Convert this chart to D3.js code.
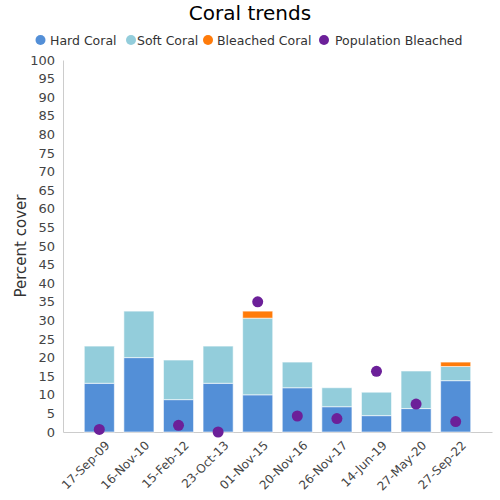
<!DOCTYPE html>
<html>
<head>
<meta charset="utf-8">
<script src="https://cdn.jsdelivr.net/npm/d3@7"></script>
<style>
body{margin:0;background:#fff;}
text{font-family:"DejaVu Sans",sans-serif;}
</style>
</head>
<body>
<svg id="chart" width="500" height="500"></svg>
<script>
const categories = ["17-Sep-09","16-Nov-10","15-Feb-12","23-Oct-13","01-Nov-15","20-Nov-16","26-Nov-17","14-Jun-19","27-May-20","27-Sep-22"];
const hardCoral = [13.1, 20.0, 8.7, 13.1, 10.0, 11.9, 6.8, 4.4, 6.3, 13.8];
const softCoral = [10.0, 12.5, 10.65, 10.0, 20.6, 6.9, 5.1, 6.3, 10.1, 3.8];
const bleachedCoral = [0, 0, 0, 0, 1.9, 0, 0, 0, 0, 1.2];
const populationBleached = [0.7, null, 1.8, 0, 35.0, 4.3, 3.6, 16.3, 7.5, 2.8];
const yTicks = d3.range(0, 101, 5);

const seriesNames = ["Hard Coral","Soft Coral","Bleached Coral","Population Bleached"];
const colors = ["#538fd7","#93cddb","#ff7b0a","#6c2099"];

const svg = d3.select("#chart");
const L = 63, R = 492, T = 60, B = 432;

const x = d3.scaleBand().domain(categories).range([L, R]).paddingInner(0.24).paddingOuter(0.537);
const y = d3.scaleLinear().domain([0, 100]).range([B, T]);

// title
svg.append("text").attr("x", 250).attr("y", 20).attr("text-anchor", "middle")
  .attr("font-size", 20).attr("fill", "#000").text("Coral trends");

// legend
const legendItems = [
  {name: seriesNames[0], cx: 40.5, tx: 50},
  {name: seriesNames[1], cx: 131, tx: 137},
  {name: seriesNames[2], cx: 208, tx: 217},
  {name: seriesNames[3], cx: 324, tx: 335}
];
const lg = svg.append("g");
legendItems.forEach((d, i) => {
  lg.append("circle").attr("cx", d.cx).attr("cy", 40).attr("r", 5).attr("fill", colors[i]);
  lg.append("text").attr("x", d.tx).attr("y", 44.5).attr("font-size", 12.5).attr("fill", "#333").text(d.name);
});

// y axis
const yAxis = d3.axisLeft(y).tickValues(yTicks).tickSize(0).tickPadding(8);
const yg = svg.append("g").attr("transform", `translate(${L},0)`).call(yAxis);
yg.select(".domain").attr("stroke", "#ccc");
yg.selectAll("text").attr("font-size", 13).attr("fill", "#444").attr("font-family", "DejaVu Sans, sans-serif");

// x axis
const xAxis = d3.axisBottom(x).tickSize(0).tickPadding(6);
const xg = svg.append("g").attr("transform", `translate(0,${B})`).call(xAxis);
xg.select(".domain").attr("stroke", "#ccc");
xg.selectAll("text").attr("font-size", 12).attr("fill", "#444").attr("font-family", "DejaVu Sans, sans-serif")
  .attr("text-anchor", "end").attr("transform", "translate(1,4) rotate(-45)").attr("dy", "0.7em");

// y label
svg.append("text").attr("transform", `translate(26,246) rotate(-90)`).attr("text-anchor", "middle")
  .attr("font-size", 15).attr("fill", "#333").text("Percent cover");

// stacked bars
const rows = categories.map((c, i) => ({cat: c, hard: hardCoral[i], soft: softCoral[i], bleached: bleachedCoral[i]}));
const stack = d3.stack().keys(["hard","soft","bleached"])(rows);
stack.forEach((layer, li) => {
  svg.append("g").selectAll("rect").data(layer).join("rect")
    .attr("x", d => x(d.data.cat))
    .attr("width", x.bandwidth())
    .attr("y", d => y(d[1]))
    .attr("height", d => Math.max(0, y(d[0]) - y(d[1])))
    .attr("fill", colors[li])
    .attr("stroke", "#fff").attr("stroke-opacity", 0.6).attr("stroke-width", 1)
    .style("display", d => (d[1] - d[0]) > 0 ? null : "none");
});

// dots
svg.append("g").selectAll("circle")
  .data(categories.map((c, i) => ({cat: c, v: populationBleached[i]})).filter(d => d.v !== null))
  .join("circle")
  .attr("cx", d => x(d.cat) + x.bandwidth() / 2)
  .attr("cy", d => y(d.v))
  .attr("r", 5.5)
  .attr("fill", colors[3]);
</script>
</body>
</html>
